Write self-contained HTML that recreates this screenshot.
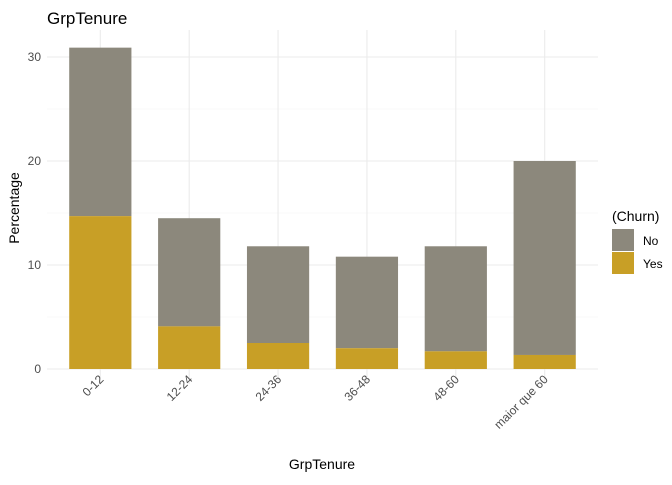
<!DOCTYPE html>
<html><head><meta charset="utf-8"><style>
body{margin:0;background:#fff;font-family:"Liberation Sans",sans-serif}
</style></head><body>
<svg id="c" width="672" height="480" font-family="Liberation Sans, sans-serif">
<text x="47" y="24" font-size="17" fill="#000">GrpTenure</text>
<g id="grid"></g><g id="bars"></g><g id="axes"></g>
<text x="322" y="469" font-size="14" text-anchor="middle" fill="#000">GrpTenure</text>
<text transform="translate(19,208) rotate(-90)" font-size="14" text-anchor="middle" fill="#000">Percentage</text>
<g>
<text x="612" y="221" font-size="14" fill="#000">(Churn)</text>
<rect x="612" y="229" width="22" height="22" fill="#8c887c"/>
<text x="643" y="245" font-size="12" fill="#000">No</text>
<rect x="612" y="252" width="22" height="22" fill="#c89f26"/>
<text x="643" y="268" font-size="12" fill="#000">Yes</text>
</g>
</svg>
<script>
const categories=["0-12","12-24","24-36","36-48","48-60","maior que 60"];
const totalValues=[30.9,14.5,11.8,10.8,11.8,20.0];
const yesValues=[14.7,4.1,2.5,2.0,1.7,1.35];
const yTicks=[0,10,20,30];
const NS="http://www.w3.org/2000/svg";
const L=47,R=598,T=30,B=384;
const y=v=>369-v*10.4;
const band=(R-L)/6.2;
const x=i=>L+band*(0.6+i);
function mk(tag,attrs,parent){const e=document.createElementNS(NS,tag);for(const k in attrs)e.setAttribute(k,attrs[k]);document.getElementById(parent).appendChild(e);return e;}
for(let v=5;v<=30;v+=10){const g=mk('line',{x1:L,x2:R,y1:y(v),y2:y(v),stroke:'#f2f2f2','stroke-width':0.6},'grid');

}
yTicks.forEach(v=>{const g=mk('line',{x1:L,x2:R,y1:y(v),y2:y(v),stroke:'#ebebeb','stroke-width':1.1},'grid');


const t=mk('text',{x:41,y:y(v)+4,'font-size':12,'text-anchor':'end',fill:'#4d4d4d'},'axes');t.textContent=v;

});
categories.forEach((c,i)=>{const cx=x(i);
const g=mk('line',{x1:cx,x2:cx,y1:T,y2:B,stroke:'#ebebeb','stroke-width':1.1},'grid');


const w=band*0.7;
const no=mk('rect',{x:cx-w/2,y:y(totalValues[i]),width:w,height:y(yesValues[i])-y(totalValues[i]),fill:'#8c887c'},'bars');


const ye=mk('rect',{x:cx-w/2,y:y(yesValues[i]),width:w,height:y(0)-y(yesValues[i]),fill:'#c89f26'},'bars');


const t=mk('text',{transform:`translate(${cx+4},${380}) rotate(-45)`,'font-size':12,'text-anchor':'end',fill:'#4d4d4d'},'axes');t.textContent=c;

});
</script>
</body></html>
